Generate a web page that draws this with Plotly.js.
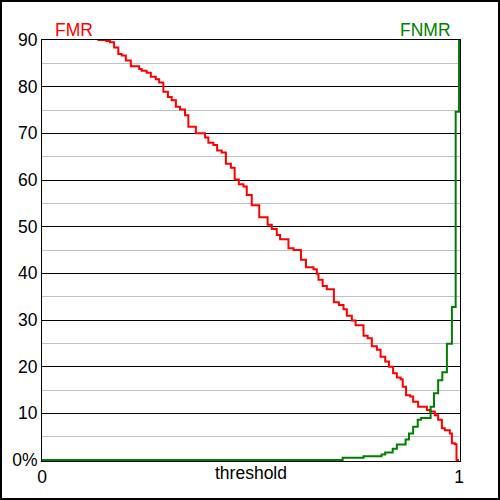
<!DOCTYPE html>
<html>
<head>
<meta charset="utf-8">
<script src="https://cdn.plot.ly/plotly-3.0.1.min.js"></script>
<style>
html,body{margin:0;padding:0;background:#fff;}
#wrap{position:relative;width:500px;height:500px;}
#chart{position:absolute;left:0;top:0;width:500px;height:500px;}
#frame{position:absolute;left:0;top:0;width:500px;height:500px;box-sizing:border-box;border:2px solid #000;pointer-events:none;}
</style>
</head>
<body>
<div id="wrap"><div id="chart"></div><div id="frame"></div></div>
<script>
// threshold values and rates (%)
var fmrThreshold = [0.133,0.154,0.163,0.173,0.183,0.191,0.201,0.213,0.233,0.239,0.251,0.261,0.273,0.281,0.291,0.302,0.311,0.321,0.331,0.343,0.351,0.369,0.391,0.399,0.411,0.420,0.431,0.441,0.453,0.462,0.472,0.483,0.491,0.503,0.521,0.541,0.551,0.563,0.571,0.591,0.603,0.621,0.633,0.651,0.659,0.663,0.673,0.683,0.700,0.712,0.723,0.731,0.743,0.752,0.771,0.781,0.791,0.803,0.812,0.823,0.832,0.842,0.851,0.860,0.865,0.873,0.883,0.890,0.902,0.923,0.931,0.942,0.950,0.959,0.966,0.978,0.983,0.990,0.994,1.0];
var fmrValues = [90,89.8,89.5,88.4,87.0,86.7,85.6,84.4,83.8,83.4,83.0,82.1,81.6,80.9,78.9,77.8,77.1,75.7,75.1,73.9,71.4,70.0,69.1,68.0,67.5,66.3,65.9,63.5,62.6,60.1,59.1,58.6,56.8,54.6,52.0,50.4,49.5,48.2,47.3,45.4,45.0,42.9,41.3,40.9,39.9,38.6,37.3,36.6,33.8,33.2,32.3,30.9,29.9,28.9,26.6,26.1,24.4,23.6,22.1,21.1,20.0,18.6,17.7,17.3,15.7,13.9,13.6,12.5,11.4,10.7,10.4,9.6,8.6,6.8,6.4,5.7,3.6,3.4,0,0];

var fnmrThreshold = [0,0.721,0.771,0.814,0.823,0.841,0.851,0.872,0.880,0.890,0.901,0.909,0.932,0.940,0.950,0.960,0.971,0.983,0.992,1.0];
var fnmrValues = [0,0.5,0.8,1.2,1.6,2.4,3.3,4.4,5.7,7.1,8.6,9.0,11.4,14.3,17.1,18.8,24.9,32.8,74.6,100];

var yTickVals = [0,10,20,30,40,50,60,70,80,90];
var yTickText = ['0%','10','20','30','40','50','60','70','80','90'];
var xTickVals = [0,1];
var xTickText = ['0','1'];
var seriesNames = ['FMR','FNMR'];
var xTitle = 'threshold';

var FONT = 'Liberation Sans, Arial, sans-serif';
var FS = 17.5;

var traces = [
  {x: fmrThreshold, y: fmrValues, type:'scatter', mode:'lines', name: seriesNames[0],
   line:{color:'#ff0000', width:2, shape:'hv'}, hoverinfo:'skip'},
  {x: fnmrThreshold, y: fnmrValues, type:'scatter', mode:'lines', name: seriesNames[1],
   line:{color:'#008000', width:2, shape:'hv'}, hoverinfo:'skip'}
];

var layout = {
  width:500, height:500,
  margin:{l:42, r:40, t:40, b:39, pad:0},
  paper_bgcolor:'#fff', plot_bgcolor:'#fff',
  showlegend:false,
  font:{family:FONT, size:FS, color:'#000'},
  xaxis:{
    range:[0, 1 + 1/417], tickmode:'array', tickvals:xTickVals, ticktext:xTickText,
    showgrid:false, zeroline:false, showline:true, mirror:true, linecolor:'#000', linewidth:1,
    ticks:'', layer:'below traces', fixedrange:true,
    tickfont:{family:FONT, size:FS, color:'#000'}
  },
  yaxis:{
    range:[-90/420, 90], tickmode:'array', tickvals:yTickVals, ticktext:yTickText,
    showgrid:true, gridcolor:'#000', gridwidth:1, zeroline:false,
    showline:true, mirror:true, linecolor:'#000', linewidth:1,
    ticks:'', layer:'below traces', fixedrange:true,
    minor:{tickmode:'linear', tick0:0, dtick:5, showgrid:true, gridcolor:'#c0c0c0', gridwidth:1, ticks:''},
    tickfont:{family:FONT, size:FS, color:'#000'}
  },
  annotations:[
    {text:seriesNames[0], xref:'paper', yref:'paper', x:(52.7-42)/418, y:1+(40-29.5)/421, xanchor:'left', yanchor:'middle', showarrow:false, font:{family:FONT, size:FS, color:'#ff0000'}},
    {text:seriesNames[1], xref:'paper', yref:'paper', x:(425-42)/418, y:1+(40-29.5)/421, xanchor:'center', yanchor:'middle', showarrow:false, font:{family:FONT, size:FS, color:'#008000'}},
    {text:xTitle, xref:'paper', yref:'paper', x:(250.7-42)/418, y:-(473-461)/421, xanchor:'center', yanchor:'middle', showarrow:false, font:{family:FONT, size:FS, color:'#000'}}
  ]
};

Plotly.newPlot('chart', traces, layout, {staticPlot:true, displayModeBar:false});
</script>
</body>
</html>
